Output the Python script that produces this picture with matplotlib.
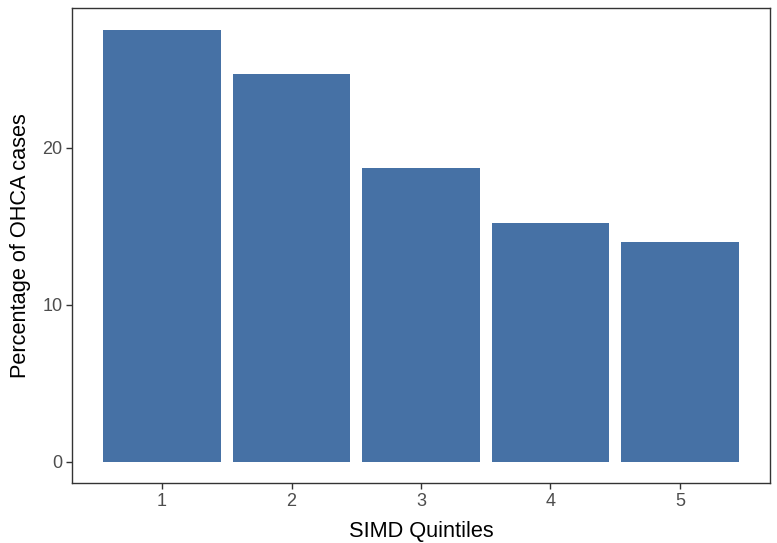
import matplotlib
matplotlib.use("Agg")
import matplotlib.pyplot as plt

# ---------------- data ----------------
quintiles = [1, 2, 3, 4, 5]
percentages = [27.5, 24.7, 18.7, 15.2, 14.0]
yticks = [0, 10, 20]

plt.rcParams["font.family"] = ["Liberation Sans", "DejaVu Sans"]

fig = plt.figure(figsize=(7.77, 5.43), dpi=100)
ax = fig.add_axes([72 / 777, (543 - 483.3) / 543, (770 - 72) / 777, (483.3 - 8.3) / 543])

ax.bar(quintiles, percentages, width=0.91, color="#4671A5")

ymax = max(percentages)
ax.set_ylim(-0.05 * ymax, 1.05 * ymax)
ax.set_xlim(0.305, 5.695)
ax.set_xticks(quintiles)
ax.set_yticks(yticks)

for sp in ax.spines.values():
    sp.set_color("#333333")
    sp.set_linewidth(1.0)

ax.tick_params(axis="both", colors="#333333", length=4, width=1.0,
               labelsize=13, labelcolor="#4D4D4D", pad=3)
ax.set_xlabel("SIMD Quintiles", fontsize=15.7, labelpad=8)
ax.set_ylabel("Percentage of OHCA cases", fontsize=15.7, labelpad=8)

fig.savefig("out.png", dpi=100)
